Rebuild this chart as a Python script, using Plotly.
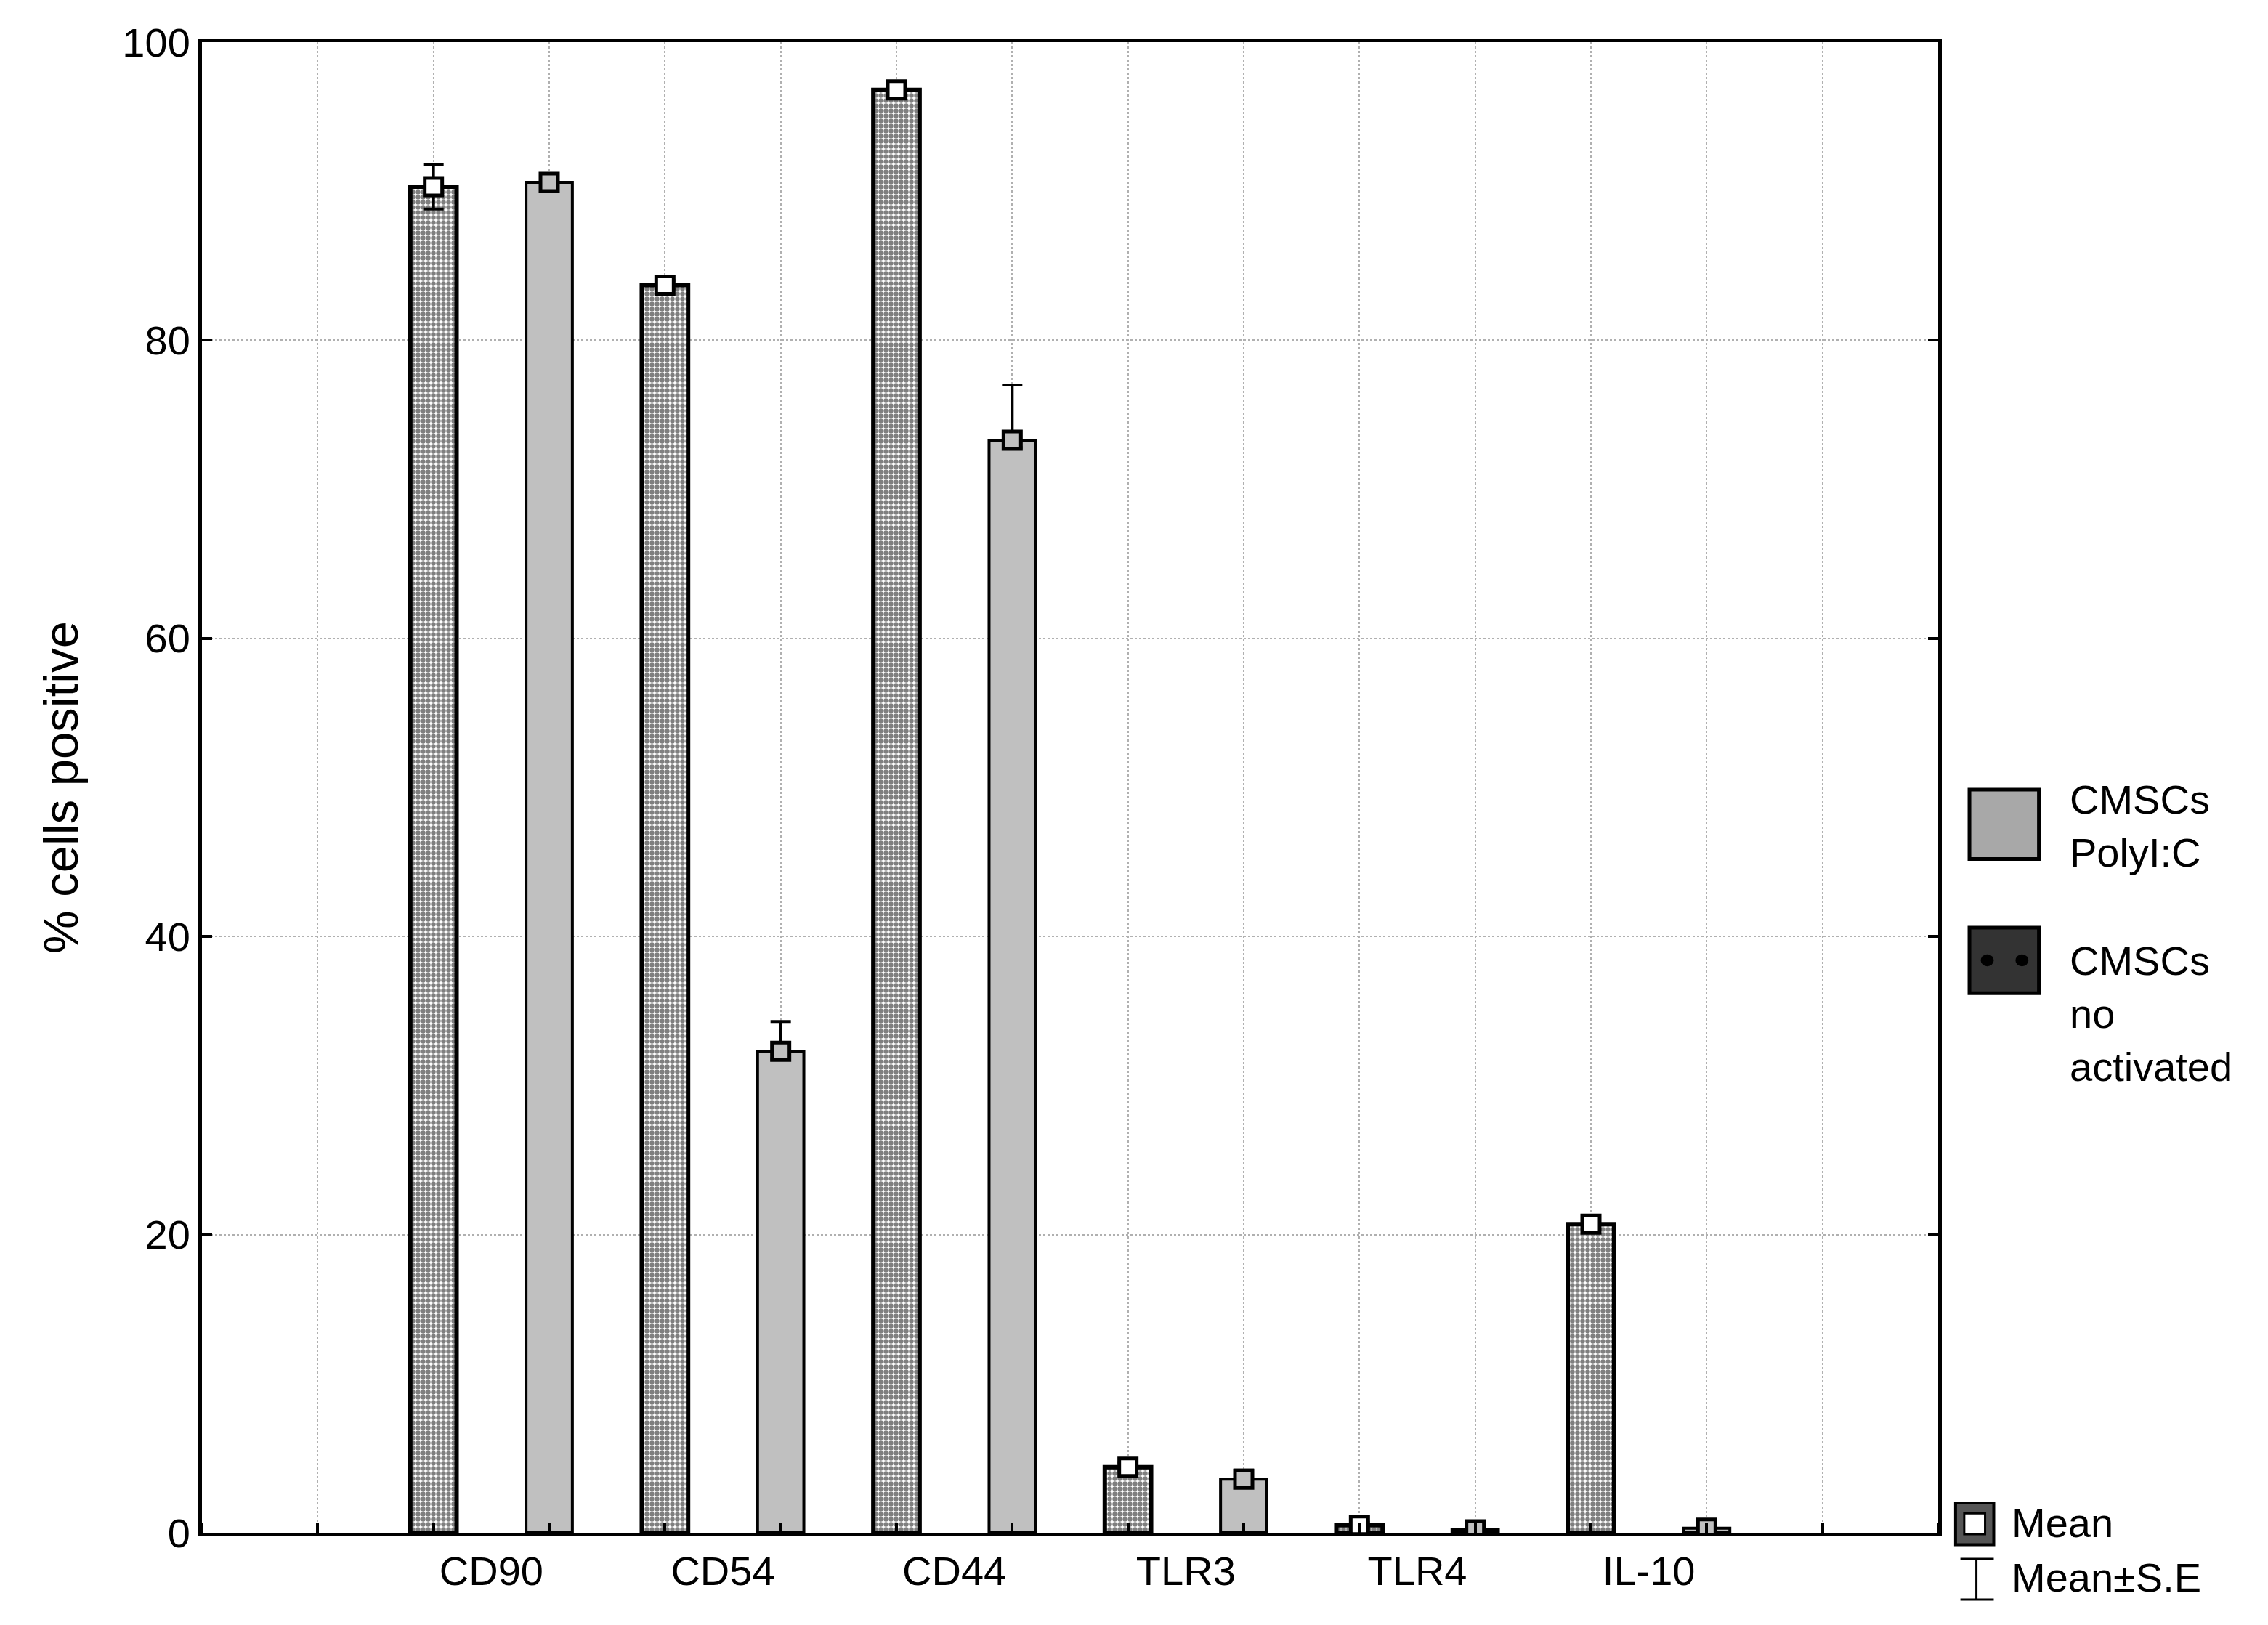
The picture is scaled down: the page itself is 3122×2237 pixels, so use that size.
import plotly.graph_objects as go

# -----------------------------
# Datos
# -----------------------------
marcadores = ["CD90", "CD54", "CD44", "TLR3", "TLR4", "IL-10"]
media_no_activ = [90.3, 83.7, 96.8, 4.4, 0.5, 20.7]
se_no_activ = [1.5, 0.3, 0.3, 0.3, 0.2, 0.3]
media_polyic = [90.6, 32.3, 73.3, 3.6, 0.2, 0.3]
se_polyic = [0.2, 2.0, 3.7, 0.6, 0.1, 0.1]
se_polyic_abajo = [0.2, 0.5, 0.5, 0.3, 0.1, 0.1]

# posiciones: cada grupo ocupa dos unidades del eje
x_no = [2 * i + 2 for i in range(len(marcadores))]
x_pc = [2 * i + 3 for i in range(len(marcadores))]
x_lab = [2 * i + 2.5 for i in range(len(marcadores))]

FONT = "Liberation Sans, Arial, sans-serif"

fig = go.Figure()

# Barras "no activated" con patrón de cuadrícula
fig.add_trace(go.Bar(
    x=x_no, y=media_no_activ, width=0.4,
    marker=dict(color="white", line=dict(color="black", width=6),
                pattern=dict(shape=".", fgcolor="black", bgcolor="white",
                             size=7, solidity=0.65)),
    showlegend=False,
))
# Barras PolyI:C
fig.add_trace(go.Bar(
    x=x_pc, y=media_polyic, width=0.4,
    marker=dict(color="#c0c0c0", line=dict(color="black", width=4)),
    showlegend=False,
))

# Medias con error estándar
fig.add_trace(go.Scatter(
    x=x_no, y=media_no_activ, mode="markers",
    marker=dict(symbol="square", size=24, color="white",
                line=dict(color="black", width=5)),
    error_y=dict(type="data", array=se_no_activ, color="black",
                 thickness=4, width=14),
    showlegend=False,
))
fig.add_trace(go.Scatter(
    x=x_pc, y=media_polyic, mode="markers",
    marker=dict(symbol="square", size=24, color="#c0c0c0",
                line=dict(color="black", width=5)),
    error_y=dict(type="data", array=se_polyic, arrayminus=se_polyic_abajo,
                 color="black", thickness=4, width=14),
    showlegend=False,
))

# -----------------------------
# Leyenda dibujada a mano
# -----------------------------
shapes = [
    dict(type="rect", xref="paper", yref="paper", x0=1.018, x1=1.058,
         y0=0.452, y1=0.4985, fillcolor="#a8a8a8", line=dict(color="black", width=5)),
    dict(type="rect", xref="paper", yref="paper", x0=1.018, x1=1.058,
         y0=0.362, y1=0.406, fillcolor="#333333", line=dict(color="black", width=5)),
    dict(type="circle", xref="paper", yref="paper", x0=1.0245, x1=1.032,
         y0=0.380, y1=0.388, fillcolor="black", line=dict(width=0)),
    dict(type="circle", xref="paper", yref="paper", x0=1.0445, x1=1.052,
         y0=0.380, y1=0.388, fillcolor="black", line=dict(width=0)),
    dict(type="rect", xref="paper", yref="paper", x0=1.010, x1=1.032,
         y0=-0.008, y1=0.020, fillcolor="#555555", line=dict(color="black", width=4)),
    dict(type="rect", xref="paper", yref="paper", x0=1.015, x1=1.027,
         y0=-0.001, y1=0.013, fillcolor="white", line=dict(color="black", width=3)),
    dict(type="line", xref="paper", yref="paper", x0=1.0128, x1=1.032,
         y0=-0.0175, y1=-0.0175, line=dict(color="black", width=3)),
    dict(type="line", xref="paper", yref="paper", x0=1.0128, x1=1.032,
         y0=-0.0448, y1=-0.0448, line=dict(color="black", width=3)),
    dict(type="line", xref="paper", yref="paper", x0=1.022, x1=1.022,
         y0=-0.0175, y1=-0.0448, line=dict(color="black", width=3)),
]
annotations = [
    dict(text="CMSCs<br>PolyI:C", x=1.075, y=0.474, yanchor="middle"),
    dict(text="CMSCs<br>no<br>activated", x=1.075, y=0.400, yanchor="top"),
    dict(text="Mean", x=1.0415, y=0.0068, yanchor="middle"),
    dict(text="Mean±S.E", x=1.0415, y=-0.030, yanchor="middle"),
]
for a in annotations:
    a.update(xref="paper", yref="paper", xanchor="left", showarrow=False,
             align="left", font=dict(family=FONT, size=56, color="black"))

fig.update_layout(
    width=3122, height=2237,
    margin=dict(l=270, r=462, t=50, b=135),
    plot_bgcolor="white", paper_bgcolor="white",
    font=dict(family=FONT, size=56, color="black"),
    shapes=shapes, annotations=annotations,
    xaxis=dict(
        range=[0, 15], tickvals=x_lab, ticktext=marcadores, ticks="",
        showgrid=False, zeroline=False, showline=True, linecolor="black",
        linewidth=5, mirror=True,
        minor=dict(tick0=0, dtick=1, ticks="inside", ticklen=14, tickwidth=4,
                   tickcolor="black", showgrid=True, gridcolor="#b0b0b0",
                   griddash="dot", gridwidth=2),
    ),
    yaxis=dict(
        range=[0, 100], dtick=20, ticks="inside", ticklen=14, tickwidth=4,
        tickcolor="black", showline=True, linecolor="black", linewidth=5,
        mirror="ticks", gridcolor="#b0b0b0", griddash="dot", gridwidth=2,
        zeroline=False, title=dict(text="% cells positive", standoff=40),
    ),
)

fig.write_html("out.html")
